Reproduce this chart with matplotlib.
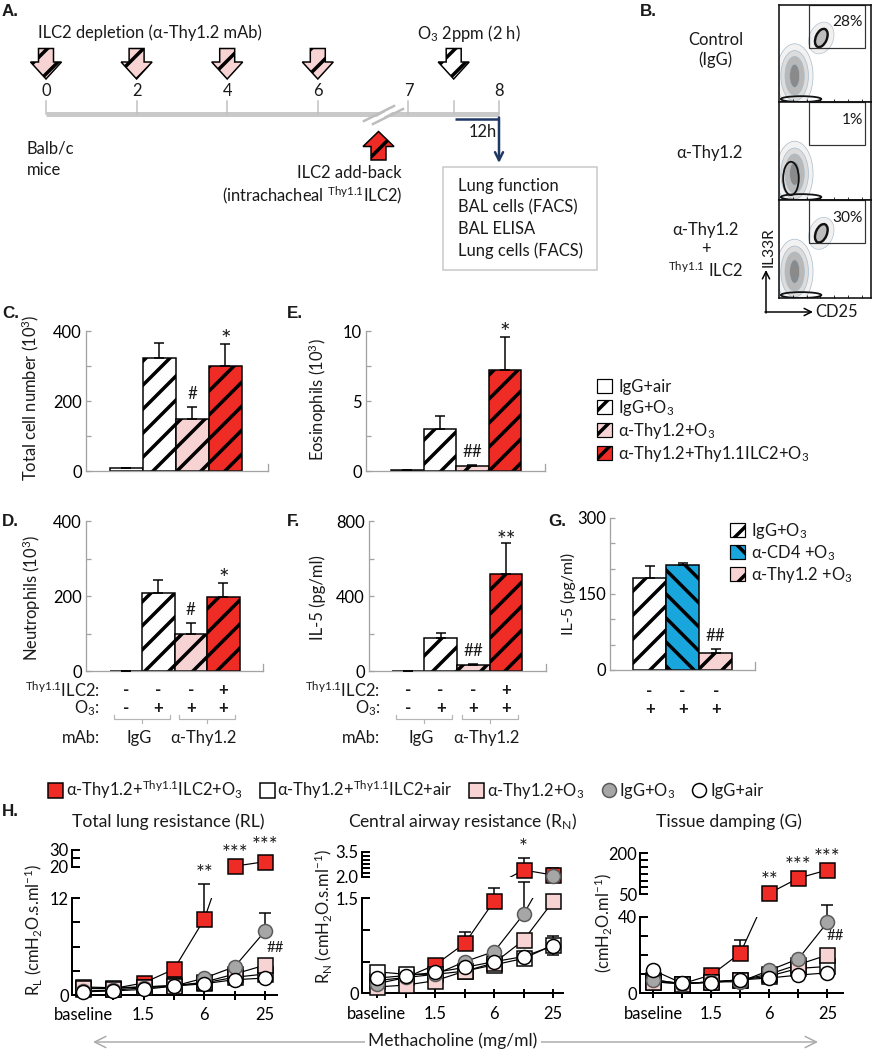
import numpy as np
import matplotlib
matplotlib.use('Agg')
import matplotlib.pyplot as plt
from matplotlib.patches import Polygon, Rectangle, Ellipse, Patch
from matplotlib.lines import Line2D

# ============================================================
# Data
# ============================================================

# A. timeline
days = ['0', '2', '4', '6', '7', '8']
depletion_slots = [0, 1, 2, 3]
o3_slot = 4.5
addback_slot = 3.67
readouts = ['Lung function', 'BAL cells (FACS)', 'BAL ELISA', 'Lung cells (FACS)']

# B. FACS gates
facs_labels = ['Control\n(IgG)', 'α-Thy1.2', 'α-Thy1.2\n+\n$^{Thy1.1}$ ILC2']
facs_pct = ['28%', '1%', '30%']
facs_ilc2 = [True, False, True]

# C-F. BAL
bal_groups = ['IgG+air', 'IgG+O$_3$', 'α-Thy1.2+O$_3$', 'α-Thy1.2+Thy1.1ILC2+O$_3$']
total_cells = [8, 322, 148, 301]
total_cells_err = [0, 43, 36, 61]
total_marks = ['', '', '#', '*']
eosinophils = [0.05, 3.03, 0.35, 7.2]
eosinophils_err = [0, 0.87, 0.06, 2.4]
eos_marks = ['', '', '##', '*']
neutrophils = [1, 209, 100, 198]
neutrophils_err = [0, 34, 27, 37]
neut_marks = ['', '', '#', '*']
il5_bal = [2, 178, 32, 517]
il5_bal_err = [0, 23, 8, 167]
il5_marks = ['', '', '##', '**']
ilc2_row = ['-', '-', '-', '+']
o3_row = ['-', '+', '+', '+']
mab_groups = ['IgG', 'α-Thy1.2']

# G. IL-5 after anti-CD4
cd4_groups = ['IgG+O$_3$', 'α-CD4 +O$_3$', 'α-Thy1.2 +O$_3$']
il5_cd4 = [181, 207, 34]
il5_cd4_err = [24, 5, 7]
cd4_marks = ['', '', '##']
cd4_row1 = ['-', '-', '-']
cd4_row2 = ['+', '+', '+']

# H. lung function vs methacholine
mch_doses = ['baseline', '0.75', '1.5', '3', '6', '12.5', '25']
mch_labels = ['baseline', '', '1.5', '', '6', '', '25']
lung_groups = ['α-Thy1.2+$^{Thy1.1}$ILC2+O$_3$', 'α-Thy1.2+$^{Thy1.1}$ILC2+air',
               'α-Thy1.2+O$_3$', 'IgG+O$_3$', 'IgG+air']

rl_red = [0.8, 0.8, 1.5, 3.2, 9.4, 20.3, 23.0]
rl_red_err = [0, 0, 0, 0, 4.4, 0, 3.5]
rl_wsq = [1.0, 0.9, 1.0, 1.2, 1.5, 2.2, 2.6]
rl_pink = [0.9, 0.8, 1.0, 1.1, 1.6, 2.6, 3.7]
rl_gray = [0.5, 0.6, 0.9, 1.1, 2.1, 3.5, 7.9]
rl_gray_err = [0, 0, 0, 0, 0, 0, 2.3]
rl_wcirc = [0.4, 0.5, 0.7, 1.1, 1.4, 1.9, 2.1]
rl_marks = [(0, 4, '**'), (0, 5, '***'), (0, 6, '***')]

rn_red = [0.2, 0.25, 0.45, 0.79, 1.46, 2.4, 2.1]
rn_red_err = [0, 0, 0, 0.17, 0.2, 0.7, 0.3]
rn_wsq = [0.34, 0.3, 0.3, 0.35, 0.45, 0.55, 0.76]
rn_wsq_err = [0, 0, 0, 0, 0, 0, 0.15]
rn_pink = [0.1, 0.13, 0.2, 0.35, 0.48, 0.84, 1.45]
rn_gray = [0.15, 0.25, 0.3, 0.5, 0.66, 1.25, 2.06]
rn_gray_err = [0, 0, 0, 0, 0, 0.5, 0.45]
rn_wcirc = [0.24, 0.28, 0.33, 0.41, 0.5, 0.58, 0.75]
rn_marks = [(0, 5, '*')]

g_red = [6, 5, 9.6, 21, 54, 109, 139]
g_red_err = [0, 0, 0, 7, 0, 0, 0]
g_wsq = [7, 5, 6, 7, 9, 13, 14]
g_pink = [6, 5, 6, 7, 10, 15, 20]
g_gray = [7, 5, 6, 6, 12, 18, 37]
g_gray_err = [0, 0, 0, 0, 0, 0, 9]
g_wcirc = [12, 5.2, 5.5, 7, 8, 9.5, 10.7]
g_marks = [(0, 4, '**'), (0, 5, '***'), (0, 6, '***')]

# ============================================================
# Style
# ============================================================
plt.rcParams.update({
    'font.family': ['Lato', 'DejaVu Sans'],
    'font.size': 16,
    'mathtext.fontset': 'custom',
    'mathtext.rm': 'Lato',
    'mathtext.it': 'Lato:italic',
    'mathtext.bf': 'Lato:bold',
    'mathtext.default': 'regular',
    'hatch.linewidth': 3.5,
    'text.color': '#1a1a1a',
})

RED = '#ee2b24'
PINK = '#f8d3d3'
BLUE = '#19a6dc'
GRAYC = '#a6a6a6'
AXG = '#a3a3a3'
NAVY = '#1f3864'
BOLD = ['Liberation Sans']

bal_fills = ['white', 'white', PINK, RED]
bal_hatches = ['', '/', '/', '/']
cd4_fills = ['white', BLUE, PINK]
cd4_hatches = ['/', '\\', '/']

W, H, DPI = 873, 1050, 72
fig = plt.figure(figsize=(W / DPI, H / DPI), dpi=DPI)


def add_ax(x0, y0, x1, y1, **kw):
    return fig.add_axes([x0 / W, 1 - y1 / H, (x1 - x0) / W, (y1 - y0) / H], **kw)


ov = fig.add_axes([0, 0, 1, 1], zorder=10)
ov.set_xlim(0, W)
ov.set_ylim(H, 0)
ov.axis('off')


def T(x, y, s, **kw):
    kw.setdefault('fontsize', 16)
    kw.setdefault('va', 'center')
    return ov.text(x, y, s, **kw)


def letter(x, y, s):
    T(x, y, s, family=BOLD, fontweight='bold', fontsize=17, ha='left')


# ============================================================
# A. timeline
# ============================================================
def sx(s):
    return 46 + 90.6 * s


def block_arrow(xc, y_tail, y_tip, fc, shaft_w=15, head_w=31, head_len=17):
    d = 1 if y_tip > y_tail else -1
    y_neck = y_tip - d * head_len
    pts = [(xc - shaft_w / 2, y_tail), (xc + shaft_w / 2, y_tail),
           (xc + shaft_w / 2, y_neck), (xc + head_w / 2, y_neck),
           (xc, y_tip), (xc - head_w / 2, y_neck), (xc - shaft_w / 2, y_neck)]
    ov.add_patch(Polygon(pts, closed=True, fc=fc, ec='black', lw=1.5, hatch='/'))


letter(2, 12, 'A.')
T(38, 33, 'ILC2 depletion (α-Thy1.2 mAb)', ha='left', fontsize=16.5)
T(417, 33, 'O$_3$ 2ppm (2 h)', ha='left', fontsize=16.5)

ov.plot([sx(0), sx(len(days) - 1)], [114, 114], color='#c9c9c9', lw=5,
        solid_capstyle='butt')
for s in list(range(len(days))) + [o3_slot]:
    ov.plot([sx(s), sx(s)], [101, 114], color='#c0c0c0', lw=1.5)
for i, d in enumerate(days):
    T(sx(i), 91, d, ha='center', fontsize=16.5)

# axis break
ov.add_patch(Polygon([(368, 122), (394, 107), (401, 107), (375, 122)],
                     closed=True, fc='white', ec='none', zorder=3))
ov.plot([364, 394], [121, 106], color='#bdbdbd', lw=2.5, zorder=4)
ov.plot([373, 403], [124, 109], color='#bdbdbd', lw=2.5, zorder=4)

for s in depletion_slots:
    block_arrow(sx(s), 48.5, 79, PINK)
block_arrow(sx(o3_slot), 48.5, 79, 'white')
block_arrow(sx(addback_slot), 160, 131.5, RED, head_len=15)

T(27, 148, 'Balb/c', ha='left', fontsize=16.5)
T(27, 170, 'mice', ha='left', fontsize=16.5)
T(402, 173, 'ILC2 add-back', ha='right', fontsize=16.5)
T(402, 195, '(intrachacheal $^{Thy1.1}$ILC2)', ha='right', fontsize=16.5)

ov.plot([455, 499], [118.5, 118.5], color=NAVY, lw=2.5, solid_capstyle='butt')
ov.annotate('', xy=(499, 163), xytext=(499, 117.5),
            arrowprops=dict(arrowstyle='->', color=NAVY, lw=2.5, mutation_scale=20,
                            shrinkA=0, shrinkB=0))
T(469, 132, '12h', ha='left', fontsize=16.5)
ov.add_patch(Rectangle((443, 167), 154, 103, fc='none', ec='#c8c8c8', lw=1.5))
for i, r in enumerate(readouts):
    T(458, 186 + 21.7 * i, r, ha='left', fontsize=16.5)

# ============================================================
# B. FACS
# ============================================================
letter(640, 12, 'B.')
facs_boxes = [(779, 5, 871, 102), (779, 102, 871, 200), (779, 200, 871, 298)]
facs_label_y = [50, 153, 251]
for box, lab, pct, has_ilc2, ly in zip(facs_boxes, facs_labels, facs_pct,
                                       facs_ilc2, facs_label_y):
    ax = add_ax(*box)
    ax.set_xlim(0, 1)
    ax.set_ylim(0, 1)
    for sp in ax.spines.values():
        sp.set_linewidth(1.6)
        sp.set_color('#111111')
    ax.set_xticks([0.15, 0.3, 0.45, 0.6, 0.75, 0.9])
    ax.set_yticks([])
    ax.tick_params(axis='x', direction='in', length=3, width=0.8, labelbottom=False)
    rings = [(0.40, 0.66, '#f2f2f2'), (0.30, 0.52, '#dcdcdc'),
             (0.21, 0.40, '#b8b8b8'), (0.11, 0.24, '#8a8a8a')]
    for w, h, c in rings:
        ax.add_patch(Ellipse((0.17, 0.27), w, h, fc=c, ec='#a9bccb', lw=0.7))
    if not has_ilc2:
        ax.add_patch(Ellipse((0.13, 0.22), 0.17, 0.34, fc='none', ec='#111', lw=1.8))
    ax.add_patch(Ellipse((0.24, 0.03), 0.44, 0.06, fc='none', ec='#111', lw=1.8))
    if has_ilc2:
        ax.add_patch(Ellipse((0.46, 0.66), 0.26, 0.34, angle=-25, fc='#f0f0f0',
                             ec='#b3c3d0', lw=0.7))
        ax.add_patch(Ellipse((0.46, 0.66), 0.12, 0.2, angle=-25, fc='#bdbdbd',
                             ec='#111', lw=2.4))
    ax.add_patch(Rectangle((0.33, 0.56), 0.6, 0.44, fc='none', ec='#333', lw=1.2))
    ax.text(0.91, 0.82, pct, transform=ax.transAxes, ha='right', va='center',
            fontsize=15.5)
    T(743, ly, lab, ha='right', multialignment='center', linespacing=1.25,
      fontsize=16.5)

ov.annotate('', xy=(766, 270), xytext=(766, 313),
            arrowprops=dict(arrowstyle='->', color='black', lw=1.5,
                            mutation_scale=18, shrinkA=0, shrinkB=0))
ov.annotate('', xy=(813, 312), xytext=(765, 312),
            arrowprops=dict(arrowstyle='->', color='black', lw=1.5,
                            mutation_scale=18, shrinkA=0, shrinkB=0))
T(769, 247, 'IL33R', rotation=90, ha='center', fontsize=15.5)
T(815, 312, 'CD25', ha='left', fontsize=16.5)

# ============================================================
# C-G. bar panels
# ============================================================
mark_off = {'#': 8, '##': 8, '*': -4, '**': -4, '***': -4}
mark_size = {'#': 17, '##': 17, '*': 25, '**': 23, '***': 23}


def bar_panel(box, xlim, vals, errs, fills, hatches, ymax, ticks, ticklabels, marks):
    ax = add_ax(*box)
    x = np.arange(len(vals))
    bars = ax.bar(x, vals, width=1.0, color=fills, edgecolor='black',
                  linewidth=1.5, zorder=2)
    for b, h in zip(bars, hatches):
        b.set_hatch(h)
    ax.errorbar(x, vals, yerr=[np.zeros(len(vals)), errs], fmt='none',
                ecolor='black', elinewidth=1.5, capsize=5, capthick=1.5, zorder=3)
    for xi, v, e, m in zip(x, vals, errs, marks):
        if m:
            ax.annotate(m, (xi, v + e), xytext=(0, mark_off[m]),
                        textcoords='offset points', ha='center', va='baseline',
                        fontsize=mark_size[m], annotation_clip=False)
    ax.set_xlim(*xlim)
    ax.set_ylim(0, ymax)
    ax.set_xticks([])
    ax.set_yticks(ticks, labels=ticklabels)
    ax.spines['top'].set_visible(False)
    ax.spines['left'].set_bounds(0, ymax)
    ax.spines['right'].set_bounds(0, ymax * 0.05)
    for s in ['left', 'bottom', 'right']:
        ax.spines[s].set_color(AXG)
        ax.spines[s].set_linewidth(1.3)
    ax.tick_params(axis='y', direction='in', length=5, width=1.3, color=AXG,
                   labelsize=16.5, pad=4)
    ax.patch.set_alpha(0)
    return ax


def frac(box, y):
    return (box[3] - y) / (box[3] - box[1])


def treatment_rows(ax, box, label_x):
    tr = ax.get_xaxis_transform()
    y1, y2, yb, ym = frac(box, 690), frac(box, 708), frac(box, 719), frac(box, 738)
    up = 4 / (box[3] - box[1])
    for i, (a, b) in enumerate(zip(ilc2_row, o3_row)):
        ax.text(i, y1, a, transform=tr, ha='center', va='center', fontsize=17,
                fontweight='bold')
        ax.text(i, y2, b, transform=tr, ha='center', va='center', fontsize=17,
                fontweight='bold')
    ax.text(label_x, y1, '$^{Thy1.1}$ILC2:', transform=tr, ha='right', va='center',
            fontsize=16.5)
    ax.text(label_x, y2, 'O$_3$:', transform=tr, ha='right', va='center',
            fontsize=16.5)
    for g, (i0, i1) in enumerate([(0, 1), (2, 3)]):
        ax.plot([i0 - 0.35, i0 - 0.35, i1 + 0.35, i1 + 0.35], [yb + up, yb, yb, yb + up],
                transform=tr, color='#b5b5b5', lw=1.2, clip_on=False)
        c = (i0 + i1) / 2
        ax.plot([c, c], [yb, yb - up], transform=tr, color='#b5b5b5', lw=1.2,
                clip_on=False)
        ax.text(c - 0.1, ym, mab_groups[g], transform=tr, ha='center', va='center',
                fontsize=16.5)
    ax.text(label_x, ym, 'mAb:', transform=tr, ha='right', va='center', fontsize=16.5)


boxC = (86, 331, 268, 471)
axC = bar_panel(boxC, (-1.227, 4.29), total_cells, total_cells_err, bal_fills,
                bal_hatches, 400, [0, 100, 200, 300, 400],
                ['0', '', '200', '', '400'], total_marks)
boxE = (366, 331, 545, 471)
axE = bar_panel(boxE, (-1.27, 4.23), eosinophils, eosinophils_err, bal_fills,
                bal_hatches, 10, [0, 2.5, 5, 7.5, 10],
                ['0', '', '5', '', '10'], eos_marks)
boxD = (86, 521, 263, 671)
axD = bar_panel(boxD, (-1.227, 4.22), neutrophils, neutrophils_err, bal_fills,
                bal_hatches, 400, [0, 100, 200, 300, 400],
                ['0', '', '200', '', '400'], neut_marks)
boxF = (369, 521, 546, 671)
axF = bar_panel(boxF, (-1.19, 4.22), il5_bal, il5_bal_err, bal_fills,
                bal_hatches, 800, [0, 200, 400, 600, 800],
                ['0', '', '400', '', '800'], il5_marks)
boxG = (610, 518, 755, 670)
axG = bar_panel(boxG, (-1.2, 3.19), il5_cd4, il5_cd4_err, cd4_fills,
                cd4_hatches, 300, [0, 50, 100, 150, 200, 250, 300],
                ['0', '', '', '150', '', '', '300'], cd4_marks)

treatment_rows(axD, boxD, -0.8)
treatment_rows(axF, boxF, -0.85)
trG = axG.get_xaxis_transform()
for i, (a, b) in enumerate(zip(cd4_row1, cd4_row2)):
    axG.text(i, frac(boxG, 691), a, transform=trG, ha='center', va='center',
             fontsize=17, fontweight='bold')
    axG.text(i, frac(boxG, 709), b, transform=trG, ha='center', va='center',
             fontsize=17, fontweight='bold')

letter(2, 313, 'C.')
letter(287, 313, 'E.')
letter(2, 522, 'D.')
letter(287, 522, 'F.')
letter(548, 521, 'G.')
T(30, 398, 'Total cell number (10$^3$)', rotation=90, ha='center', fontsize=16.5)
T(318, 400, 'Eosinophils (10$^3$)', rotation=90, ha='center', fontsize=16.5)
T(32, 598, 'Neutrophils (10$^3$)', rotation=90, ha='center', fontsize=16.5)
T(318, 598, 'IL-5 (pg/ml)', rotation=90, ha='center', fontsize=16.5)
T(568, 594, 'IL-5 (pg/ml)', rotation=90, ha='center', fontsize=16)

bal_handles = [Patch(facecolor=f, edgecolor='black', hatch=h, linewidth=1.2)
               for f, h in zip(bal_fills, bal_hatches)]
fig.legend(bal_handles, bal_groups, loc='upper left',
           bbox_to_anchor=(597 / W, 1 - 379 / H), frameon=False, fontsize=16.5,
           handlelength=0.9, handleheight=0.9, handletextpad=0.4,
           labelspacing=0.18, borderpad=0, borderaxespad=0)
cd4_handles = [Patch(facecolor=f, edgecolor='black', hatch=h, linewidth=1.2)
               for f, h in zip(cd4_fills, cd4_hatches)]
fig.legend(cd4_handles, cd4_groups, loc='upper left',
           bbox_to_anchor=(730 / W, 1 - 521 / H), frameon=False, fontsize=16.5,
           handlelength=0.9, handleheight=0.9, handletextpad=0.4,
           labelspacing=0.12, borderpad=0, borderaxespad=0)

# ============================================================
# H. lung function
# ============================================================
series_styles = [
    dict(marker='s', ms=15, mfc=RED, mec='black'),
    dict(marker='s', ms=15, mfc='white', mec='black'),
    dict(marker='s', ms=15, mfc=PINK, mec='black'),
    dict(marker='o', ms=14, mfc=GRAYC, mec='#5a5a5a'),
    dict(marker='o', ms=14, mfc='white', mec='black'),
]


def lung_panel(x0, x1, lo_y, up_y, lo_lim, up_lim, xlim, lo_ticks, lo_lbls,
               up_ticks, up_lbls, series, errors, marks):
    ax_lo = add_ax(x0, lo_y[0], x1, lo_y[1])
    ax_up = add_ax(x0, up_y[0], x1, up_y[1])
    x = np.arange(len(mch_doses))
    for ax, lim in ((ax_lo, lo_lim), (ax_up, up_lim)):
        ax.set_xlim(*xlim)
        ax.set_ylim(*lim)
        ax.patch.set_alpha(0)
        for s in ['top', 'right']:
            ax.spines[s].set_visible(False)
        for s in ['left', 'bottom']:
            ax.spines[s].set_linewidth(2)
        ax.tick_params(axis='y', direction='in', length=8, width=2, labelsize=16.5,
                       pad=3)
    ax_up.spines['bottom'].set_visible(False)
    ax_up.set_xticks([])
    ax_lo.set_xticks(x, labels=mch_labels)
    ax_lo.tick_params(axis='x', direction='inout', length=9, width=2, labelsize=16.5,
                      pad=8)
    ax_lo.set_yticks(lo_ticks, labels=lo_lbls)
    ax_up.set_yticks(up_ticks, labels=up_lbls)

    for k, (vals, errs, st) in enumerate(zip(series, errors, series_styles)):
        vals = np.asarray(vals, float)
        errs = np.asarray(errs, float)
        is_up = vals > lo_lim[1]
        for ax in (ax_lo, ax_up):
            ax.plot(x, vals, color='black', lw=1.2, zorder=2)
        for ax, m in ((ax_lo, ~is_up), (ax_up, is_up)):
            if not m.any():
                continue
            ax.plot(x[m], vals[m], ls='none', mew=1.5, clip_on=False,
                    zorder=4 + k, **st)
            em = m & (errs > 0)
            if em.any():
                lower = errs[em] if k == 1 else np.zeros(em.sum())
                eb = ax.errorbar(x[em], vals[em], yerr=[lower, errs[em]], fmt='none',
                                 ecolor='black', elinewidth=1.5, capsize=6,
                                 capthick=1.5, zorder=3)
                for child in eb.get_children():
                    child.set_clip_on(False)
    for k, i, m in marks:
        vals = np.asarray(series[k], float)
        top = vals[i] + errors[k][i]
        ax = ax_up if vals[i] > lo_lim[1] else ax_lo
        off = 4 if errors[k][i] > 0 else 6
        ax.annotate(m, (i, top), xytext=(0, off), textcoords='offset points',
                    ha='center', va='baseline', fontsize=21, annotation_clip=False)
    return ax_lo, ax_up


rl_lo, rl_up = lung_panel(
    71.7, 277, (898.3, 995), (850, 866.7), (0, 12), (20, 30), (-0.373, 6.4),
    [0, 3, 6, 9, 12], ['0', '', '', '', '12'], [20, 25, 30], ['20', '', '30'],
    [rl_red, rl_wsq, rl_pink, rl_gray, rl_wcirc],
    [rl_red_err, [0] * 7, [0] * 7, rl_gray_err, [0] * 7], rl_marks)
rl_lo.annotate('##', (6, rl_pink[6]), xytext=(10, 17), textcoords='offset points',
               ha='center', va='center', fontsize=15, annotation_clip=False)

rn_lo, rn_up = lung_panel(
    361.7, 563, (898.3, 993.3), (851.7, 876.7), (0, 1.5), (2.0, 3.5), (-0.51, 6.34),
    [0, 0.5, 1.0, 1.5], ['0', '', '', '1.5'],
    [2.0, 2.25, 2.5, 2.75, 3.0, 3.25, 3.5], ['2.0', '', '', '', '', '', '3.5'],
    [rn_red, rn_wsq, rn_pink, rn_gray, rn_wcirc],
    [rn_red_err, rn_wsq_err, [0] * 7, rn_gray_err, [0] * 7], rn_marks)

g_lo, g_up = lung_panel(
    640, 843, (916.7, 993.3), (853.3, 894.3), (0, 40), (50, 200), (-0.46, 6.54),
    [0, 10, 20, 30, 40], ['0', '', '', '', '40'],
    [50, 75, 100, 125, 150, 175, 200], ['50', '', '', '', '', '', '200'],
    [g_red, g_wsq, g_pink, g_gray, g_wcirc],
    [g_red_err, [0] * 7, [0] * 7, g_gray_err, [0] * 7], g_marks)
g_lo.annotate('##', (6, g_pink[6]), xytext=(8, 19), textcoords='offset points',
              ha='center', va='center', fontsize=15, annotation_clip=False)

letter(2, 812, 'H.')
T(168, 822, 'Total lung resistance (RL)', ha='center', fontsize=17.5)
T(463, 822, 'Central airway resistance (R$_N$)', ha='center', fontsize=17.5)
T(729, 822, 'Tissue damping (G)', ha='center', fontsize=17.5)
T(33, 930, 'R$_L$ (cmH$_2$O.s.ml$^{-1}$)', rotation=90, ha='center', fontsize=16.5)
T(323, 917, 'R$_N$ (cmH$_2$O.s.ml$^{-1}$)', rotation=90, ha='center', fontsize=16.5)
T(603, 923, '(cmH$_2$O.ml$^{-1}$)', rotation=90, ha='center', fontsize=16.5)

lung_handles = [Line2D([], [], ls='none', mew=1.5, **st) for st in series_styles]
fig.legend(lung_handles, lung_groups, loc='center left',
           bbox_to_anchor=(48 / W, 1 - 790 / H), ncol=5, frameon=False,
           fontsize=16.5, handlelength=0.9, handletextpad=0.2, columnspacing=1.0,
           borderpad=0, borderaxespad=0)

ov.annotate('', xy=(93, 1042), xytext=(818, 1042),
            arrowprops=dict(arrowstyle='<->', color='#aaaaaa', lw=1.5,
                            mutation_scale=28, shrinkA=0, shrinkB=0))
T(453, 1041, 'Methacholine (mg/ml)', ha='center', fontsize=17.5,
  bbox=dict(fc='white', ec='none', pad=3))

fig.savefig('out.png', dpi=DPI)
